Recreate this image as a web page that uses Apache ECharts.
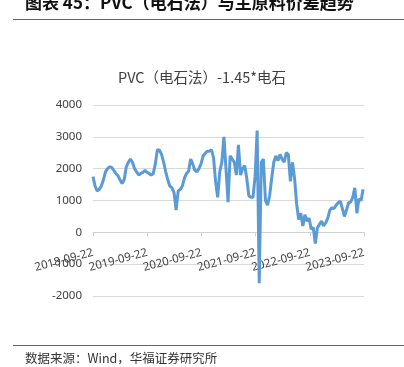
<!DOCTYPE html>
<html>
<head>
<meta charset="utf-8">
<script src="https://cdn.jsdelivr.net/npm/echarts@6/dist/echarts.min.js"></script>
<style>
  html, body { margin: 0; padding: 0; background: #fff; }
  #chart { width: 404px; height: 367px; }
</style>
</head>
<body>
<div id="chart"></div>
<script>
// 价差数据，自 2018-09-22 起每 14 天一个点
const startDate = '2018-09-22'
const stepDays = 14
const spread = [
  1750, 1450, 1300, 1350, 1450, 1650, 1900, 2000, 2060, 2040,
  1950, 1850, 1780, 1650, 1530, 1650, 2050, 2200, 2300, 2200,
  2000, 1900, 1800, 1850, 1880, 1950, 1880, 1850, 1800, 1850,
  2150, 2600, 2580, 2450, 2200, 1900, 1650, 1450, 1400, 1250,
  700, 1300, 1350, 1450, 1700, 1850, 1920, 2300, 2150, 1950,
  1900, 2000, 2150, 2400, 2480, 2550, 2550, 2600, 2350, 1600,
  1100, 1900, 2200, 3000, 2000, 950, 2400, 2300, 2200, 1800,
  2750, 1800, 2000, 2100, 1700, 1150, 1100, 1100, 1750, 3200,
  -1600, 2200, 2300, 1000, 850, 1150, 1700, 2200, 2400, 2250,
  2450, 2300, 2200, 2500, 2450, 1600, 2200, 1700, 900, 400,
  600, 200, 550, 350, 450, 100, 150, -350, 150, 250,
  350, 200, 300, 450, 700, 770, 750, 850, 930, 980,
  750, 500, 700, 930, 950, 1100, 1400, 600, 1050, 1000,
  1350
]
const tickLabels = ['2018-09-22', '2019-09-22', '2020-09-22', '2021-09-22', '2022-09-22', '2023-09-22']
const totalDays = 1826
const yMin = -2000
const yMax = 4000
const yStep = 1000

const chart = echarts.init(document.getElementById('chart'))
const yearStep = totalDays / (tickLabels.length - 1)

// 网格尺寸，用来把 x 轴挪到 0 刻度处
const gridTop = 105
const gridBottom = 71
const plotH = 367 - gridTop - gridBottom
const zeroOffset = plotH * (0 - yMin) / (yMax - yMin)

chart.setOption({
  animation: false,
  textStyle: { fontFamily: 'Noto Sans CJK SC' },
  title: {
    text: 'PVC（电石法）-1.45*电石',
    left: 'center',
    top: 65,
    textStyle: { fontSize: 14.5, fontWeight: 'normal', color: '#404040', fontFamily: 'Noto Sans CJK SC' }
  },
  grid: { left: 93, right: 40, top: gridTop, bottom: gridBottom },
  xAxis: {
    type: 'value',
    min: 0,
    max: totalDays,
    interval: yearStep,
    offset: -zeroOffset,
    axisLine: { onZero: false, lineStyle: { color: '#d0d0d0' } },
    axisTick: { show: true, length: 4, lineStyle: { color: '#d0d0d0' } },
    splitLine: { show: false },
    axisLabel: {
      rotate: 15,
      margin: 20,
      fontSize: 11.5,
      color: '#404040',
      fontFamily: 'Noto Sans',
      showMinLabel: true,
      showMaxLabel: true,
      formatter: (v) => tickLabels[Math.round(v / yearStep)] || ''
    }
  },
  yAxis: {
    type: 'value',
    min: yMin,
    max: yMax,
    interval: yStep,
    axisLine: { show: false },
    axisTick: { show: false },
    axisLabel: {
      fontSize: 11.5, color: '#404040', margin: 11, fontFamily: 'Noto Sans',
      formatter: (v) => String(v)
    },
    splitLine: { lineStyle: { color: '#d9d9d9' } }
  },
  series: [{
    type: 'line',
    data: spread.map((v, i) => [i * stepDays, v]),
    showSymbol: false,
    lineStyle: { color: '#5b9bd5', width: 3 },
    itemStyle: { color: '#5b9bd5' }
  }],
  graphic: [
    {
      type: 'text', left: 25, top: -6,
      style: { text: '图表 45：PVC（电石法）与主原料价差趋势', font: 'bold 17px "Noto Sans CJK SC"', fill: '#111' }
    },
    {
      type: 'rect', shape: { x: 13, y: 19, width: 391, height: 1 },
      style: { fill: '#5b5ea6' }
    },
    {
      type: 'rect', shape: { x: 13, y: 345, width: 391, height: 1 },
      style: { fill: '#5b5ea6' }
    },
    {
      type: 'text', left: 25, top: 352,
      style: { text: '数据来源：Wind，华福证券研究所', font: '12.5px "Noto Sans CJK SC"', fill: '#333' }
    }
  ]
})
</script>
</body>
</html>
